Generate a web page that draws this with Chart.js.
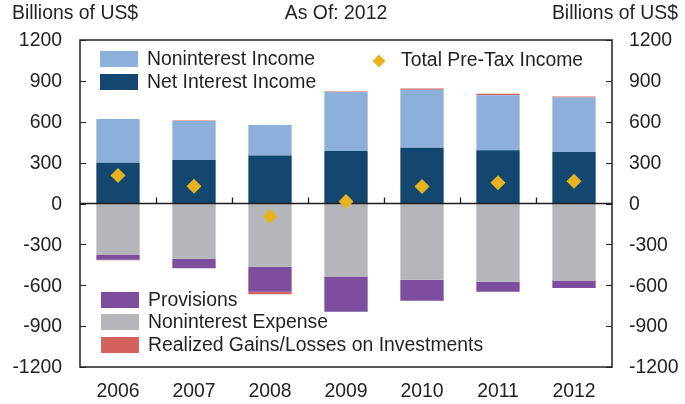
<!DOCTYPE html>
<html>
<head>
<meta charset="utf-8">
<script src="https://cdn.jsdelivr.net/npm/chart.js@4/dist/chart.umd.min.js"></script>
<style>
  html, body { margin: 0; padding: 0; background: #fff; }
  canvas { display: block; }
</style>
</head>
<body>
<canvas id="c" width="685" height="404"></canvas>
<script>
// Bank income components, billions of US$
const years = ['2006', '2007', '2008', '2009', '2010', '2011', '2012'];
const netInterestIncome = [300, 319, 353, 385, 410, 390, 378];
const noninterestIncome = [320, 287, 223, 434, 424, 405, 400];
const noninterestExpense = [-375, -405, -464, -535, -560, -574, -565];
const provisions = [-37, -71, -184, -260, -154, -74, -56];
const realizedGains = [-5, 3, -18, 3, 10, 10, 8];
const preTaxIncome = [205, 127, -95, 15, 125, 152, 164];
const yTicks = [-1200, -900, -600, -300, 0, 300, 600, 900, 1200];

const INK = '#231f20';
const FONT_FAMILY = "'Liberation Sans', Arial, sans-serif";
const FONT_SIZE = 19.4;
const COLORS = {
  nii: '#134770',
  nonIncome: '#8db0da',
  expense: '#b5b6b9',
  provisions: '#7d4e9e',
  realized: '#d4625c',
  preTax: '#e6b31e'
};

function setTicks(scale) {
  scale.ticks = yTicks.map(v => ({ value: v }));
}
const plainNumber = v => String(v);
const noGrid = { display: false, drawTicks: false, tickLength: 0 };

const frame = {
  id: 'frame',
  beforeDatasetDraw(chart, args) {
    if (args.meta.type !== 'line') return;
    const { ctx, chartArea: a, scales: { x, y } } = chart;
    const y0 = y.getPixelForValue(0);
    ctx.save();
    ctx.strokeStyle = INK;
    ctx.lineWidth = 1.3;
    ctx.beginPath();
    ctx.moveTo(a.left, y0);
    ctx.lineTo(a.right, y0);
    for (let i = 1; i < years.length; i++) {
      const px = Math.round((x.getPixelForValue(i - 1) + x.getPixelForValue(i)) / 2) + 0.5;
      ctx.moveTo(px, y0);
      ctx.lineTo(px, y0 - 6);
    }
    ctx.stroke();
    ctx.restore();
  },
  afterDraw(chart) {
    const { ctx, chartArea: a, scales: { y } } = chart;
    ctx.save();
    // plot frame
    ctx.strokeStyle = INK;
    ctx.lineWidth = 1.5;
    ctx.strokeRect(a.left, a.top, a.right - a.left, a.bottom - a.top);
    // inward tick marks on both value axes
    ctx.lineWidth = 1.2;
    ctx.beginPath();
    yTicks.forEach(v => {
      const py = Math.round(y.getPixelForValue(v)) + 0.5;
      ctx.moveTo(a.left, py); ctx.lineTo(a.left + 6, py);
      ctx.moveTo(a.right, py); ctx.lineTo(a.right - 6, py);
    });
    ctx.stroke();

    // header texts
    ctx.fillStyle = INK;
    ctx.font = FONT_SIZE + 'px ' + FONT_FAMILY;
    ctx.textBaseline = 'middle';
    ctx.textAlign = 'left';
    ctx.fillText('Billions of US$', 12, 14);
    ctx.textAlign = 'center';
    ctx.fillText('As Of: 2012', 336, 14);
    ctx.textAlign = 'right';
    ctx.fillText('Billions of US$', 678, 14);

    // legends
    const ds = chart.data.datasets;
    const swatch = (d, sx, sy) => {
      ctx.fillStyle = d.backgroundColor;
      ctx.fillRect(sx, sy - 8, 38, 16);
      ctx.fillStyle = INK;
      ctx.textAlign = 'left';
      ctx.fillText(d.label, sx + 47, sy + 1);
    };
    const byLabel = l => ds.find(d => d.label === l);
    swatch(byLabel('Noninterest Income'), 100, 59);
    swatch(byLabel('Net Interest Income'), 100, 82);
    swatch(byLabel('Provisions'), 101, 300);
    swatch(byLabel('Noninterest Expense'), 101, 322);
    swatch(byLabel('Realized Gains/Losses on Investments'), 101, 345);

    const pt = byLabel('Total Pre-Tax Income');
    const dx = 379, dy = 61, r = 6.5;
    ctx.fillStyle = pt.backgroundColor;
    ctx.beginPath();
    ctx.moveTo(dx, dy - r); ctx.lineTo(dx + r, dy); ctx.lineTo(dx, dy + r); ctx.lineTo(dx - r, dy);
    ctx.closePath(); ctx.fill();
    ctx.fillStyle = INK;
    ctx.fillText(pt.label, 401, dy);
    ctx.restore();
  }
};

const tickFont = { family: FONT_FAMILY, size: FONT_SIZE };

new Chart(document.getElementById('c'), {
  data: {
    labels: years,
    datasets: [
      { type: 'bar', label: 'Net Interest Income', data: netInterestIncome, backgroundColor: COLORS.nii },
      { type: 'bar', label: 'Noninterest Income', data: noninterestIncome, backgroundColor: COLORS.nonIncome },
      { type: 'bar', label: 'Noninterest Expense', data: noninterestExpense, backgroundColor: COLORS.expense },
      { type: 'bar', label: 'Provisions', data: provisions, backgroundColor: COLORS.provisions },
      { type: 'bar', label: 'Realized Gains/Losses on Investments', data: realizedGains, backgroundColor: COLORS.realized },
      {
        type: 'line', label: 'Total Pre-Tax Income', data: preTaxIncome, stack: 'pretax', order: -1,
        showLine: false, pointStyle: 'rectRot', pointRadius: 7.5, pointHoverRadius: 7.5,
        backgroundColor: COLORS.preTax, borderColor: COLORS.preTax, pointBorderWidth: 0
      }
    ]
  },
  options: {
    responsive: false,
    devicePixelRatio: 1,
    animation: false,
    layout: { padding: { top: 40, left: 0, right: 0, bottom: 0 } },
    datasets: { bar: { categoryPercentage: 1, barPercentage: 0.57, borderWidth: 0, stack: 'flows' } },
    plugins: { legend: { display: false }, tooltip: { enabled: false } },
    scales: {
      x: {
        stacked: true,
        grid: noGrid,
        border: { display: false },
        ticks: { font: tickFont, color: INK, padding: 13, maxRotation: 0 },
        afterFit(s) { s.height = 37; }
      },
      y: {
        stacked: true,
        position: 'left',
        min: -1200, max: 1200,
        afterBuildTicks: setTicks,
        grid: noGrid,
        border: { display: false },
        ticks: { font: tickFont, color: INK, padding: 18, labelOffset: 1, callback: plainNumber },
        afterFit(s) { s.width = 80; }
      },
      y2: {
        position: 'right',
        min: -1200, max: 1200,
        afterBuildTicks: setTicks,
        grid: noGrid,
        border: { display: false },
        ticks: { font: tickFont, color: INK, padding: 17, labelOffset: 1, callback: plainNumber },
        afterFit(s) { s.width = 73; }
      }
    }
  },
  plugins: [frame]
});
</script>
</body>
</html>
